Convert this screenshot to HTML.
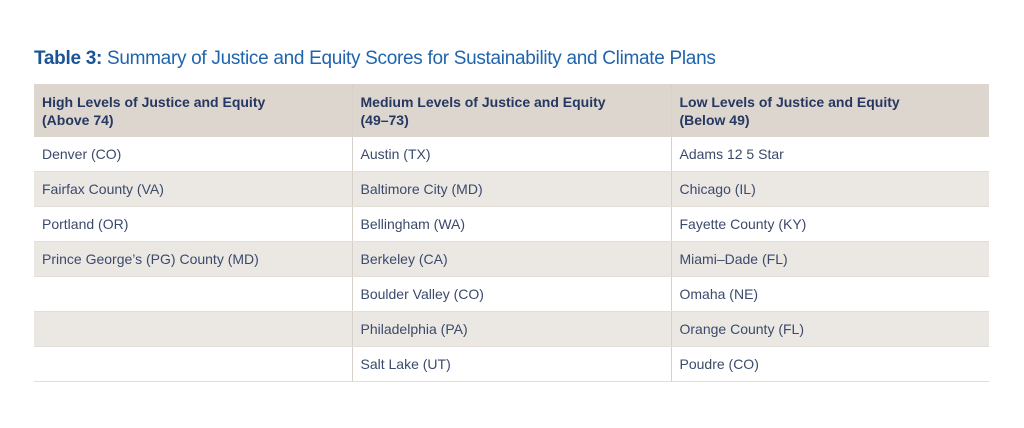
<!DOCTYPE html>
<html><head><meta charset="utf-8"><style>
body{margin:0;width:1024px;height:428px;background:#fff;font-family:"Liberation Sans",sans-serif;position:relative;overflow:hidden}
.title{position:absolute;left:34px;top:48px;font-size:19px;color:#1f64ad;letter-spacing:-0.3px}
.title b{color:#1a5396}
table{position:absolute;left:34px;top:84px;width:955px;border-collapse:collapse;table-layout:fixed}
td,th{padding:0 0 0 8px;text-align:left;vertical-align:middle;font-size:14px;color:#3b4a6b;height:34px;border-bottom:1px solid #e2ddd6}
th{background:#dcd6ce;color:#263761;font-weight:bold;height:53px;line-height:18px;font-size:14px;border-bottom:none}
td+td,th+th{border-left:1px solid #d7d1c9}
tr.alt td{background:#ebe8e3}
</style></head><body>
<div class="title"><b>Table 3:</b> Summary of Justice and Equity Scores for Sustainability and Climate Plans</div>
<table>
<colgroup><col style="width:318px"><col style="width:319px"><col style="width:318px"></colgroup>
<tr><th>High Levels of Justice and Equity<br>(Above 74)</th><th>Medium Levels of Justice and Equity<br>(49–73)</th><th>Low Levels of Justice and Equity<br>(Below 49)</th></tr>
<tr><td>Denver (CO)</td><td>Austin (TX)</td><td>Adams 12 5 Star</td></tr>
<tr class="alt"><td>Fairfax County (VA)</td><td>Baltimore City (MD)</td><td>Chicago (IL)</td></tr>
<tr><td>Portland (OR)</td><td>Bellingham (WA)</td><td>Fayette County (KY)</td></tr>
<tr class="alt"><td>Prince George’s (PG) County (MD)</td><td>Berkeley (CA)</td><td>Miami–Dade (FL)</td></tr>
<tr><td></td><td>Boulder Valley (CO)</td><td>Omaha (NE)</td></tr>
<tr class="alt"><td></td><td>Philadelphia (PA)</td><td>Orange County (FL)</td></tr>
<tr><td></td><td>Salt Lake (UT)</td><td>Poudre (CO)</td></tr>
</table>
</body></html>
